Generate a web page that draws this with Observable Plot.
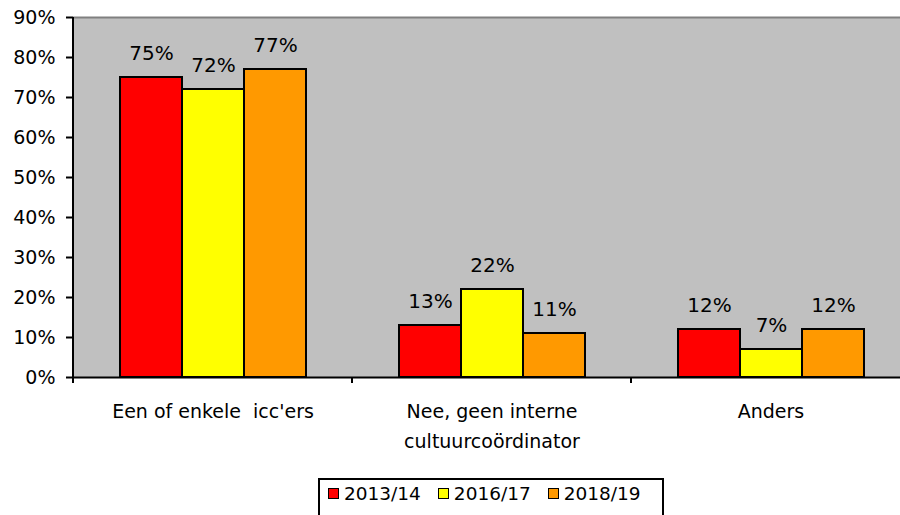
<!DOCTYPE html>
<html>
<head>
<meta charset="utf-8">
<script src="https://cdn.jsdelivr.net/npm/d3@7"></script>
<script src="https://cdn.jsdelivr.net/npm/@observablehq/plot@0.6"></script>
<style>
  body { margin: 0; background: #fff; }
  #wrap { position: relative; width: 900px; height: 515px; overflow: hidden; font-family: "DejaVu Sans", sans-serif; }
  svg text { white-space: pre; }
  #legend { position: absolute; left: 318px; top: 478px; width: 346px; height: 50px; border: 2px solid #000; border-bottom: none; box-sizing: border-box; display: flex; align-items: flex-start; padding: 3px 0 0 8px; gap: 17px; font-size: 18.5px; }
  .item { display: flex; align-items: center; gap: 5px; }
  .sw { width: 9px; height: 9px; border: 1.5px solid #000; }
</style>
</head>
<body>
<div id="wrap"></div>
<script>
const categories = ["Een of enkele  icc'ers", "Nee, geen interne\ncultuurcoördinator", "Anders"];
const series = ["2013/14", "2016/17", "2018/19"];
const values2013 = [75, 13, 12];
const values2016 = [72, 22, 7];
const values2018 = [77, 11, 12];
const colors = ["#FF0000", "#FFFF00", "#FF9900"];
const yTicks = [0, 10, 20, 30, 40, 50, 60, 70, 80, 90];

const seriesValues = [values2013, values2016, values2018];
const data = [];
categories.forEach((c, i) => series.forEach((s, j) => data.push({cat: c, series: s, value: seriesValues[j][i]})));

const font = "DejaVu Sans, sans-serif";
const plot = Plot.plot({
  width: 900, height: 460,
  marginLeft: 73, marginRight: -10, marginTop: 17, marginBottom: 83,
  style: {fontFamily: font, fontSize: "19px", color: "#000", background: "transparent", overflow: "hidden"},
  fx: {domain: categories, padding: 0, label: null},
  x: {domain: series, paddingInner: 0, paddingOuter: 0.75, axis: null},
  y: {domain: [0, 90], label: null},
  color: {domain: series, range: colors},
  marks: [
    Plot.frame({fill: "#C0C0C0", stroke: "#C0C0C0", strokeWidth: 1}),
    Plot.ruleY([90], {stroke: "#808080", strokeWidth: 2}),
    Plot.barY(data, {fx: "cat", x: "series", y: "value", fill: "series", stroke: "#000", strokeWidth: 2}),
    Plot.text(data, {fx: "cat", x: "series", y: "value", text: d => d.value + "%", dy: -18, lineAnchor: "bottom", fontSize: 20, fill: "#000"}),
    Plot.axisY({ticks: yTicks, tickFormat: d => d + "%", tickSize: 7, tickPadding: 11, strokeWidth: 2, fontSize: 19, stroke: "#000"}),
    Plot.ruleY([0], {stroke: "#000", strokeWidth: 2}),
    Plot.axisFx({anchor: "bottom", tickSize: 0, tickPadding: 20, lineHeight: 1.55, fontSize: 19, label: null})
  ]
});

// axis line and category boundary ticks drawn from Plot's own scales
const svg = d3.select(plot);
const fx = plot.scale("fx");
const y = plot.scale("y");
const y0 = y.apply(0), yTop = y.apply(90);
const x0 = fx.apply(categories[0]);
svg.append("line").attr("x1", x0).attr("x2", x0).attr("y1", yTop).attr("y2", y0 + 6)
  .attr("stroke", "#000").attr("stroke-width", 2);
categories.slice(1).forEach(c => {
  const xb = fx.apply(c);
  svg.append("line").attr("x1", xb).attr("x2", xb).attr("y1", y0).attr("y2", y0 + 6)
    .attr("stroke", "#000").attr("stroke-width", 2);
});

const wrap = document.getElementById("wrap");
wrap.appendChild(plot);

const legend = d3.select(wrap).append("div").attr("id", "legend");
series.forEach((s, i) => {
  const it = legend.append("div").attr("class", "item");
  it.append("div").attr("class", "sw").style("background", colors[i]);
  it.append("span").text(s);
});
</script>
</body>
</html>
